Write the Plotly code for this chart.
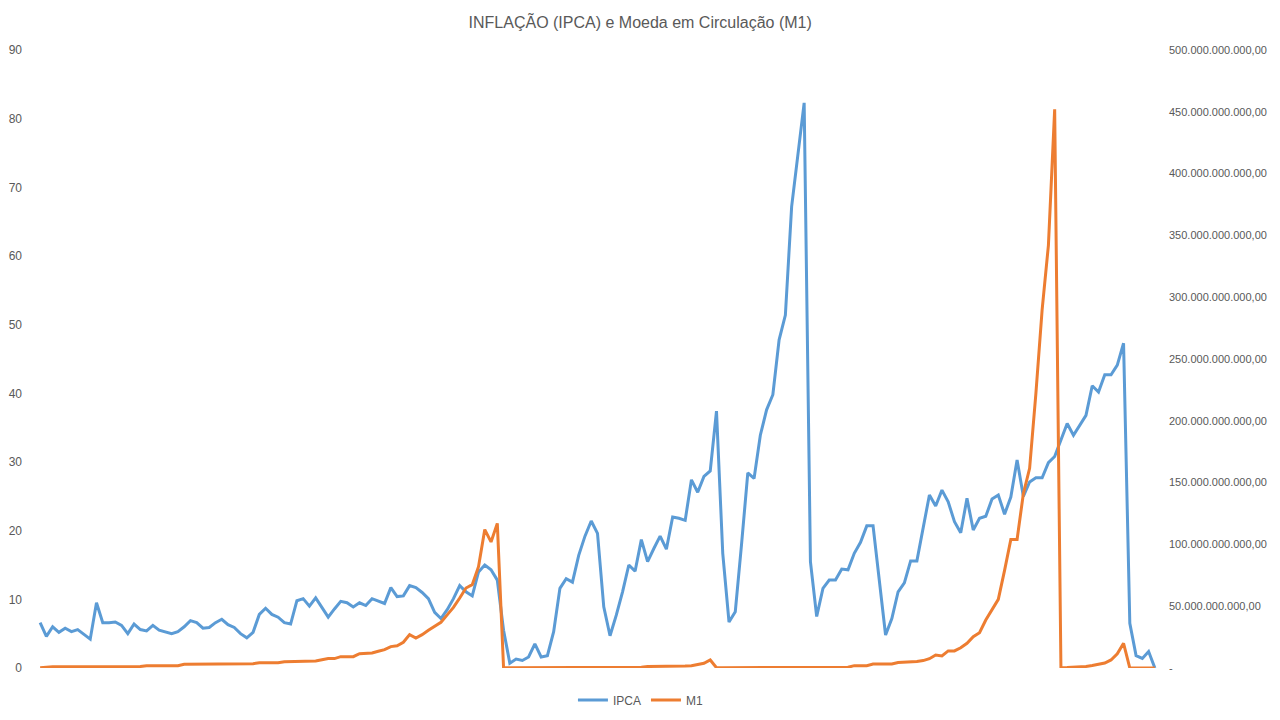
import pandas as pd
import plotly.graph_objects as go

# meses jan/1980 .. nov/1994 (categorias, eixo X sem rótulos)
meses = [d.strftime("%m/%Y") for d in pd.date_range("1980-01-01", periods=179, freq="MS")]

# IPCA mensal (%)
ipca = [
    6.6, 4.6, 6.0, 5.2, 5.8, 5.3, 5.6, 4.9, 4.2, 9.5, 6.6, 6.6,
    6.7, 6.2, 5.0, 6.4, 5.6, 5.4, 6.2, 5.5, 5.3, 5.0, 5.3, 6.0,
    6.9, 6.6, 5.8, 5.9, 6.6, 7.1, 6.3, 5.9, 5.0, 4.4, 5.2, 7.8,
    8.7, 7.8, 7.4, 6.6, 6.4, 9.8, 10.1, 9.0, 10.2, 8.8, 7.4, 8.6,
    9.7, 9.5, 8.9, 9.5, 9.1, 10.1, 9.8, 9.4, 11.7, 10.4, 10.5, 12.0,
    11.7, 11.0, 10.1, 8.1, 7.2, 8.5, 10.1, 12.0, 11.1, 10.5, 14.0, 15.0,
    14.3, 12.8, 5.5, 0.7, 1.3, 1.1, 1.6, 3.5, 1.6, 1.8, 5.3, 11.6,
    13.0, 12.5, 16.4, 19.2, 21.4, 19.6, 8.9, 4.7, 7.7, 11.1, 15.0, 14.1,
    18.7, 15.5, 17.4, 19.2, 17.3, 22.0, 21.8, 21.5, 27.4, 25.6, 27.9, 28.7,
    37.4, 16.7, 6.7, 8.2, 18.0, 28.4, 27.6, 33.9, 37.6, 39.8, 47.8, 51.4,
    67.2, 75.2, 82.3, 15.5, 7.5, 11.6, 12.8, 12.8, 14.4, 14.3, 16.7, 18.3,
    20.7, 20.7, 12.5, 4.8, 7.2, 11.1, 12.4, 15.6, 15.6, 20.6, 25.2, 23.6,
    25.9, 24.2, 21.3, 19.7, 24.7, 20.1, 21.8, 22.1, 24.6, 25.2, 22.4, 24.9,
    30.3, 25.0, 27.1, 27.7, 27.7, 29.9, 30.8, 33.2, 35.6, 33.9, 35.4, 36.8,
    41.1, 40.2, 42.7, 42.7, 44.1, 47.3, 6.5, 1.8, 1.4, 2.4, 0.0,
]

# M1 em bilhões (moeda corrente da época)
m1_bi = [
    0.3, 0.9, 1.0, 1.0, 1.0, 1.0, 1.0, 1.0, 1.0, 1.0, 1.0, 1.1,
    1.1, 1.1, 1.1, 1.2, 1.2, 1.9, 1.9, 1.9, 1.9, 1.9, 1.9, 3.0,
    3.0, 3.0, 3.0, 3.0, 3.0, 3.0, 3.5, 3.5, 3.5, 3.5, 3.5, 4.3,
    4.3, 4.3, 4.3, 5.1, 5.1, 5.7, 5.7, 5.7, 5.7, 6.7, 7.6, 7.6,
    9.2, 9.2, 9.2, 11.6, 11.6, 12.1, 13.5, 14.8, 17.3, 18.0, 20.8, 27.0,
    24.3, 27.0, 30.5, 33.7, 37.0, 43.0, 49.0, 56.6, 64.7, 67.4, 82.0, 112.0,
    102.0, 117.0, 0.2, 0.2, 0.2, 0.2, 0.2, 0.2, 0.2, 0.2, 0.2, 0.2,
    0.2, 0.3, 0.3, 0.3, 0.3, 0.3, 0.3, 0.3, 0.3, 0.6, 0.6, 0.6,
    0.6, 1.2, 1.2, 1.2, 1.2, 1.6, 1.6, 1.6, 1.9, 2.8, 3.8, 6.5,
    0.2, 0.2, 0.2, 0.2, 0.2, 0.2, 0.2, 0.2, 0.2, 0.5, 0.5, 0.5,
    0.5, 0.5, 0.5, 0.5, 0.5, 0.6, 0.6, 0.6, 0.6, 0.6, 1.9, 1.9,
    1.9, 3.2, 3.2, 3.2, 3.2, 4.5, 4.7, 4.9, 5.2, 6.0, 7.5, 10.5,
    9.7, 13.8, 13.8, 16.4, 20.0, 25.3, 28.6, 38.8, 47.0, 55.5, 79.0, 104.0,
    104.0, 141.0, 161.6, 222.0, 290.0, 342.0, 452.0, 0.3, 0.4, 0.6, 0.9, 1.3,
    2.0, 3.0, 4.0, 6.5, 11.5, 20.0, 0.0, 0.0, 0.0, 0.0, 0.0,
]
m1 = [v * 1e9 for v in m1_bi]

ticks_m1 = [0, 50e9, 100e9, 150e9, 200e9, 250e9, 300e9, 350e9, 400e9, 450e9, 500e9]
ticks_m1_txt = [
    "-",
    "50.000.000.000,00",
    "100.000.000.000,00",
    "150.000.000.000,00",
    "200.000.000.000,00",
    "250.000.000.000,00",
    "300.000.000.000,00",
    "350.000.000.000,00",
    "400.000.000.000,00",
    "450.000.000.000,00",
    "500.000.000.000,00",
]

AZUL = "#5B9BD5"
LARANJA = "#ED7D31"
CINZA = "#595959"
FONTE = "Liberation Sans"

# a página desloca a figura 8 px (margem do body), por isso 1272x712
fig = go.Figure()
fig.add_trace(
    go.Scatter(x=meses, y=ipca, name="IPCA", mode="lines",
               line={"color": AZUL, "width": 3})
)
fig.add_trace(
    go.Scatter(x=meses, y=m1, name="M1", mode="lines", yaxis="y2",
               line={"color": LARANJA, "width": 3})
)

fig.update_layout(
    width=1272,
    height=712,
    template="plotly_white",
    paper_bgcolor="white",
    plot_bgcolor="white",
    font={"family": FONTE, "size": 11, "color": CINZA},
    title={
        "text": "INFLAÇÃO (IPCA) e Moeda em Circulação (M1)",
        "x": 0.497,
        "xanchor": "center",
        "xref": "container",
        "y": 0.980,
        "yref": "container",
        "yanchor": "middle",
        "font": {"family": FONTE, "size": 16, "color": CINZA},
    },
    margin={"l": 29, "r": 122, "t": 42, "b": 52, "autoexpand": False},
    showlegend=True,
    legend={
        "orientation": "h",
        "xref": "container",
        "x": 0.4976,
        "xanchor": "center",
        "yref": "container",
        "y": 0.028,
        "yanchor": "middle",
        "font": {"family": FONTE, "size": 12, "color": CINZA},
    },
    xaxis={
        "type": "category",
        "range": [-0.5, len(meses) - 0.5],
        "showticklabels": False,
        "showgrid": False,
        "zeroline": False,
        "showline": False,
        "ticks": "",
        "automargin": False,
    },
    yaxis={
        "range": [0, 90],
        "tickmode": "linear",
        "tick0": 0,
        "dtick": 10,
        "showgrid": False,
        "zeroline": False,
        "showline": False,
        "ticklabelstandoff": 14,
        "automargin": False,
        "tickfont": {"size": 12},
    },
    yaxis2={
        "overlaying": "y",
        "side": "right",
        "range": [0, 500e9],
        "tickmode": "array",
        "tickvals": ticks_m1,
        "ticktext": ticks_m1_txt,
        "showgrid": False,
        "zeroline": False,
        "showline": False,
        "ticklabelstandoff": 10,
        "automargin": False,
    },
)

fig.write_html("out.html")
